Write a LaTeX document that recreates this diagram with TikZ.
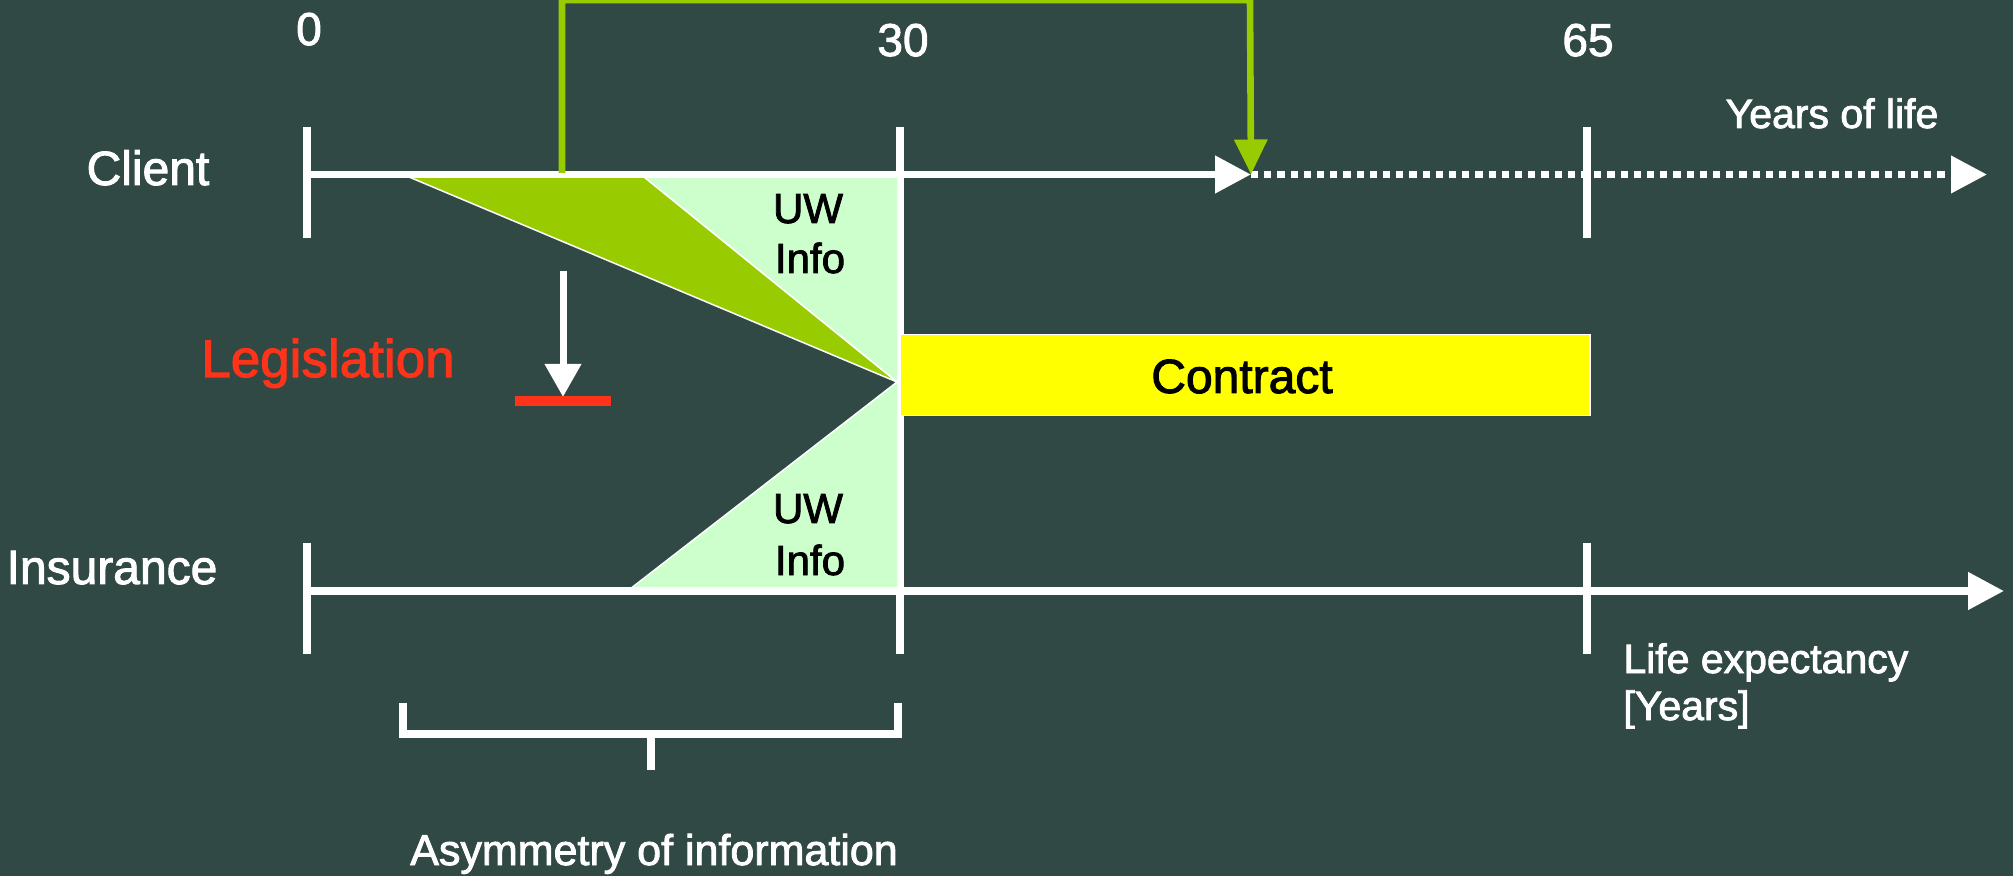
\documentclass[tikz,border=0pt]{standalone}
\usepackage{fontspec}
\setmainfont{Liberation Sans}[FakeBold=2]
\usetikzlibrary{arrows.meta}
\definecolor{bg}{RGB}{48,73,68}
\definecolor{lime}{RGB}{153,204,0}
\definecolor{pale}{RGB}{204,255,204}
\definecolor{yel}{RGB}{255,255,0}
\definecolor{legred}{RGB}{255,51,25}
\begin{document}
\begin{tikzpicture}[x=0.5pt,y=-0.5pt,
  axisline/.style={white,line width=3.85pt},
  tickline/.style={white,line width=4pt},
  wedge/.style={draw=white,line width=0.75pt,line join=round},
  lbl/.style={text=white,inner sep=0pt,anchor=base},
  bigtip/.style={-{Triangle[length=18pt,width=18pt]}},
  fsA/.style={font=\fontsize{24}{28}\selectfont},
  fsB/.style={font=\fontsize{20.5}{23.5}\selectfont},
  fsN/.style={font=\fontsize{23}{26}\selectfont},
  fsU/.style={font=\fontsize{21}{25}\selectfont}]
\useasboundingbox (0,0) rectangle (2013,876);
\fill[bg] (0,0) rectangle (2013,876);

% named points
\coordinate (c0) at (307,174.5);
\coordinate (cArr) at (1251,174.5);
\coordinate (cEnd) at (1987,174.5);
\coordinate (i0) at (307,591);
\coordinate (iEnd) at (2004,591);
\coordinate (apex) at (897,382);

% ticks
\draw[tickline] (307,127) -- (307,238);
\draw[tickline] (1587,127) -- (1587,238);
\draw[tickline] (307,543) -- (307,654);
\draw[tickline] (1587,543) -- (1587,654);
\draw[tickline] (900,127) -- (900,654);

% UW info wedges
\filldraw[wedge,fill=pale] (644,177) -- (898,177) -- (898,382) -- (apex) -- cycle;
\filldraw[wedge,fill=pale] (apex) -- (898,382) -- (898,589) -- (630,589) -- cycle;
\filldraw[wedge,fill=lime] (409,177) -- (644,177) -- (apex) -- cycle;

% axes
\draw[axisline] (c0) -- (1230,174.5);
\draw[axisline,bigtip] (c0) -- (cArr);
\draw[white,line width=3.6pt,dash pattern=on 3.6pt off 3pt,bigtip] (cArr) -- (cEnd);
\draw[axisline,bigtip] (i0) -- (iEnd);

% contract
\node[draw=white,line width=0.75pt,fill=yel,minimum width=345pt,minimum height=40.5pt,inner sep=0pt,anchor=north west] (contract) at (899,334) {};
\node[fsA,inner sep=0pt,anchor=base] (ctext) at (1242,393) {Contract};

% green connector
\coordinate (g1) at (562,173);
\coordinate (g2) at (562,0);
\coordinate (g3) at (1250,0);
\draw[lime,line width=3.3pt,line join=miter,-{Triangle[length=17.5pt,width=16pt]}] (g1) -- (g2) -- (g3) -- (cArr);

% legislation
\coordinate (l1) at (563,271);
\coordinate (l2) at (563,397);
\draw[white,line width=3.5pt,-{Triangle[length=16.5pt,width=17.5pt]}] (l1) -- (l2);
\draw[legred,line width=5pt] (515,401) -- (611,401);
\node[lbl,text=legred,font=\fontsize{26.5}{30}\selectfont] (legis) at (328,377) {Legislation};

% bracket
\draw[white,line width=4pt,line join=miter] (403,703) -- (403,734) -- (898,734) -- (898,703);
\draw[white,line width=4pt] (651,734) -- (651,770);

% labels
\node[lbl,fsN] (n0) at (309,45) {0};
\node[lbl,fsN] (n30) at (903,56) {30};
\node[lbl,fsN] (n65) at (1588,56) {65};
\node[lbl,fsA] (client) at (148,185) {Client};
\node[lbl,fsA] (insur) at (112,584) {Insurance};
\node[lbl,fsB] (yol) at (1832,128) {Years of life};
\node[lbl,fsB,anchor=base west] (le1) at (1623,673) {Life expectancy};
\node[lbl,fsB,anchor=base west] (le2) at (1623,720) {[Years]};
\node[lbl,font=\fontsize{21.5}{25}\selectfont] (asym) at (654,865) {Asymmetry of information};
\node[lbl,fsU,text=black] (uw1) at (808,223) {UW};
\node[lbl,fsU,text=black] (in1) at (810,273) {Info};
\node[lbl,fsU,text=black] (uw2) at (808,523) {UW};
\node[lbl,fsU,text=black] (in2) at (810,575) {Info};
\end{tikzpicture}
\end{document}
